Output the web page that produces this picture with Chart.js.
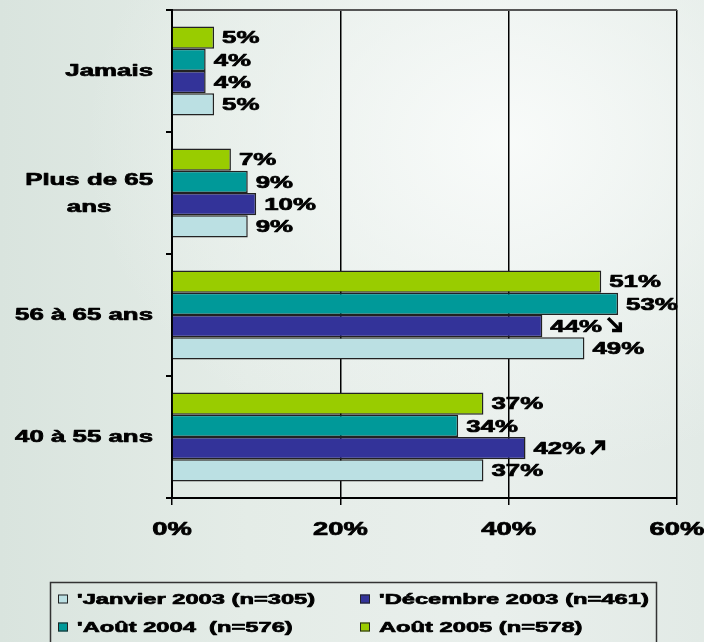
<!DOCTYPE html>
<html lang="fr">
<head>
<meta charset="utf-8">
<title>Âge</title>
<script src="https://cdn.jsdelivr.net/npm/chart.js@4.4.1/dist/chart.umd.min.js"></script>
<style>
  html, body { margin: 0; padding: 0; }
  body {
    width: 704px; height: 642px; overflow: hidden;
    background:
      radial-gradient(ellipse 80% 70% at 72% 22%, rgba(250,252,251,0.9) 0%, rgba(240,245,242,0.5) 45%, rgba(240,245,242,0) 75%),
      linear-gradient(to right, #d9e4de 0%, #e4ece7 35%, #e9efec 70%, #e2eae6 100%);
  }
  #wrap { position: relative; width: 704px; height: 642px; }
</style>
</head>
<body>
<div id="wrap"><canvas id="ageChart"></canvas></div>
<script>
const categories = [['Jamais'], ['Plus de 65', 'ans'], ['56 à 65 ans'], ['40 à 55 ans']];

// séries, de haut en bas dans chaque groupe
const aout2005 = [5, 7, 51, 37];
const aout2004 = [4, 9, 53, 34];
const decembre2003 = [4, 10, 44, 42];
const janvier2003 = [5, 9, 49, 37];

// flèche de tendance après l'étiquette de décembre 2003
const tendanceDec2003 = [null, null, 'baisse', 'hausse'];

const seriesLabels = ["Août 2005 (n=578)", "'Août 2004  (n=576)", "'Décembre 2003 (n=461)", "'Janvier 2003 (n=305)"];
const seriesColors = ['#99cc00', '#009999', '#333399', '#bbe0e3'];

const xMin = 0;
const xMax = 60;
const xStep = 20;

const FONT = '"Liberation Sans", Arial, sans-serif';
const STRETCH = 1.52;

// texte élargi horizontalement, un peu plus gras
function wideText(ctx, text, x, y, align, stretch) {
    const s = stretch || STRETCH;
    const w = ctx.measureText(text).width * s;
    const left = align === 'right' ? x - w : align === 'center' ? x - w / 2 : x;
    ctx.save();
    ctx.translate(left, y);
    ctx.scale(s, 1);
    ctx.textAlign = 'left';
    ctx.strokeStyle = ctx.fillStyle;
    ctx.lineWidth = 0.7;
    ctx.lineJoin = 'round';
    ctx.strokeText(text, 0, 0);
    ctx.fillText(text, 0, 0);
    ctx.restore();
    return left + w;
}

function drawArrow(ctx, x0, cy, dir) {
    const s = 14;
    const up = dir === 'hausse';
    const tx = x0 + s;
    const ty = up ? cy - s / 2 : cy + s / 2;
    const sy = up ? cy + s / 2 : cy - s / 2;
    ctx.save();
    ctx.strokeStyle = '#000';
    ctx.lineWidth = 3.5;
    ctx.lineJoin = 'miter';
    ctx.beginPath();
    ctx.moveTo(x0, sy);
    ctx.lineTo(tx - 2, up ? ty + 2 : ty - 2);
    ctx.stroke();
    ctx.beginPath();
    ctx.moveTo(tx - 10, ty + (up ? 1.75 : -1.75));
    ctx.lineTo(tx - 1.75, ty + (up ? 1.75 : -1.75));
    ctx.lineTo(tx - 1.75, ty + (up ? 10 : -10));
    ctx.stroke();
    ctx.restore();
}

const labelPlugin = {
    id: 'ageLabels',
    afterDraw(chart) {
        const ctx = chart.ctx;
        const xs = chart.scales.x;
        const ys = chart.scales.y;
        ctx.save();
        ctx.fillStyle = '#000';
        ctx.textBaseline = 'middle';

        // catégories
        ctx.font = 'bold 17px ' + FONT;
        chart.data.labels.forEach((lines, i) => {
            const cy = ys.getPixelForTick(i);
            const maxW = Math.max(...lines.map(l => ctx.measureText(l).width * STRETCH));
            const cx = ys.right - 19 - maxW / 2;
            lines.forEach((l, k) => {
                wideText(ctx, l, cx, cy + (k - (lines.length - 1) / 2) * 27 + 0.5, 'center');
            });
        });

        // graduations de l'axe des x
        ctx.font = 'bold 18px ' + FONT;
        xs.ticks.forEach((t, i) => {
            wideText(ctx, t.value + '%', xs.getPixelForTick(i), xs.top + 32, 'center');
        });

        // valeurs au bout des barres
        ctx.font = 'bold 17px ' + FONT;
        chart.data.datasets.forEach((ds, di) => {
            const meta = chart.getDatasetMeta(di);
            meta.data.forEach((bar, i) => {
                const end = wideText(ctx, ds.data[i] + '%', bar.x + 8, bar.y + 1, 'left');
                if (ds.tendance && ds.tendance[i]) {
                    drawArrow(ctx, end + 6, bar.y - 1, ds.tendance[i]);
                }
            });
        });

        // légende encadrée, lue de janvier 2003 à août 2005
        ctx.strokeStyle = '#333';
        ctx.lineWidth = 1.5;
        ctx.strokeRect(50.5, 582.5, 606, 80);
        ctx.font = 'bold 15px ' + FONT;
        const cols = [58, 360];
        const rows = [599, 627];
        const order = chart.data.datasets.map((d, i) => i).reverse();
        order.forEach((di, k) => {
            const ds = chart.data.datasets[di];
            const x = cols[k % 2];
            const y = rows[Math.floor(k / 2)];
            ctx.fillStyle = ds.backgroundColor;
            ctx.fillRect(x, y - 4.5, 10, 9);
            ctx.strokeStyle = '#222';
            ctx.lineWidth = 1;
            ctx.strokeRect(x + 0.5, y - 4, 9, 8);
            ctx.fillStyle = '#000';
            wideText(ctx, ds.label, x + 19, y + 1, 'left', 1.58);
        });
        ctx.restore();
    }
};

const seriesData = [aout2005, aout2004, decembre2003, janvier2003];

const config = {
    type: 'bar',
    data: {
        labels: categories,
        datasets: seriesData.map((d, i) => ({
            label: seriesLabels[i],
            data: d,
            backgroundColor: seriesColors[i],
            borderColor: '#222',
            borderWidth: 1.5,
            tendance: d === decembre2003 ? tendanceDec2003 : null,
            categoryPercentage: 0.73,
            barPercentage: 1.0
        }))
    },
    plugins: [labelPlugin],
    options: {
        indexAxis: 'y',
        responsive: true,
        maintainAspectRatio: false,
        animation: false,
        layout: { padding: { top: 10, right: 27, left: 0, bottom: 0 } },
        plugins: {
            legend: { display: false },
            tooltip: { enabled: false }
        },
        scales: {
            x: {
                min: xMin,
                max: xMax,
                ticks: { stepSize: xStep, display: false },
                grid: { color: '#000', lineWidth: 1.5, tickLength: 7, drawTicks: true },
                border: { color: '#000', width: 2 },
                afterFit(scale) { scale.height = 144; }
            },
            y: {
                ticks: { display: false },
                grid: {
                    offset: true,
                    drawOnChartArea: true,
                    color: ctx => ctx.index === 0 ? '#555' : 'rgba(0,0,0,0)',
                    tickColor: '#000',
                    tickLength: 6,
                    lineWidth: 2
                },
                border: { color: '#000', width: 2 },
                afterFit(scale) { scale.width = 172; }
            }
        }
    }
};

const chart = new Chart(document.getElementById('ageChart'), config);
</script>
</body>
</html>
